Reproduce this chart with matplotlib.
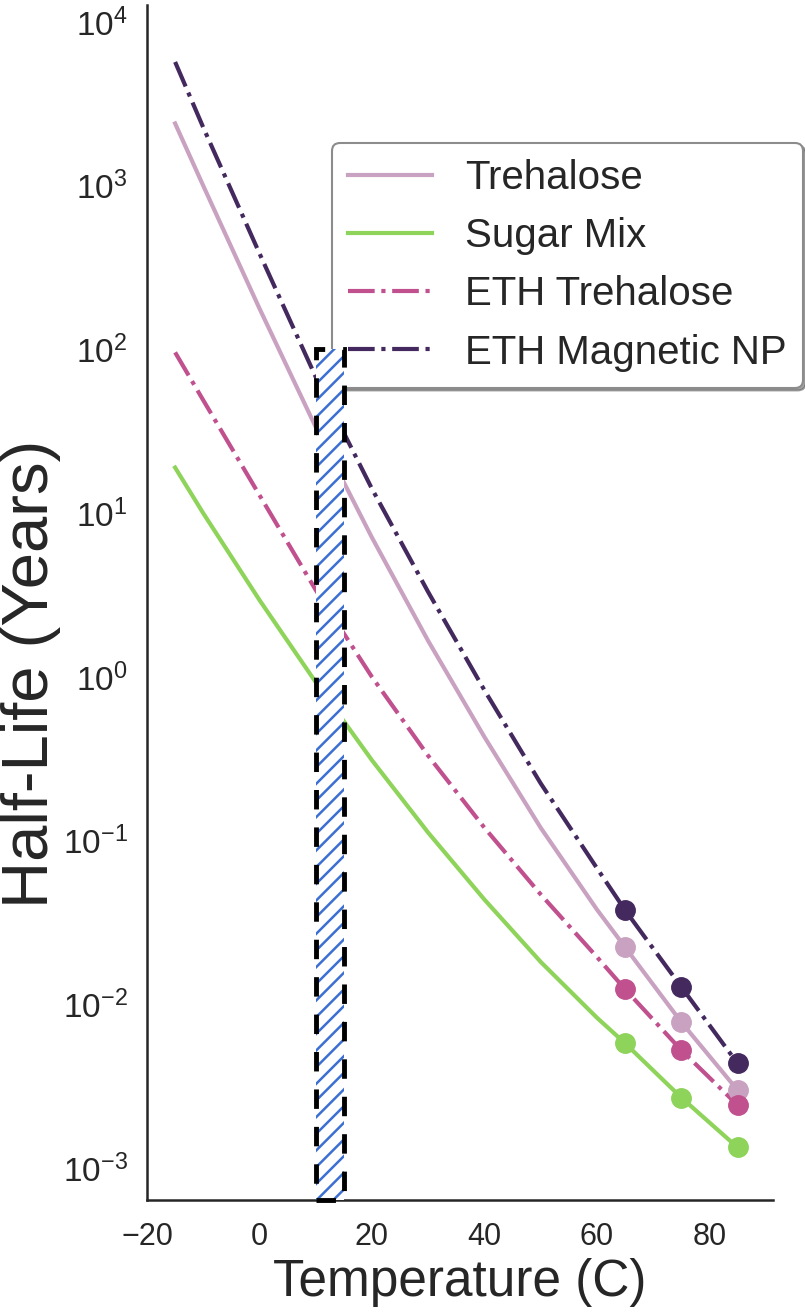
import numpy as np
import matplotlib
matplotlib.use('Agg')
import matplotlib.pyplot as plt
from matplotlib.patches import Rectangle
from matplotlib.ticker import FixedLocator, NullLocator, LogFormatterSciNotation

# temperatures (C) where the curves were read
temps = [-15, -10, 0, 10, 20, 30, 40, 50, 60, 65, 75, 85]

# half-life in years
trehalose = [2400, 1000, 178, 33.6, 7.1, 1.66, 0.43, 0.12, 0.038, 0.0224, 0.0078, 0.0030]
sugar_mix = [19, 10, 2.95, 0.93, 0.31, 0.112, 0.0437, 0.0182, 0.0083, 0.0058, 0.0027, 0.00134]
eth_trehalose = [96, 49, 12.9, 3.4, 1.0, 0.33, 0.12, 0.047, 0.0195, 0.0124, 0.00526, 0.00243]
eth_magnetic = [5700, 2270, 386, 68, 14.1, 3.3, 0.83, 0.224, 0.068, 0.0377, 0.0128, 0.00437]

# measured points (accelerated ageing)
meas_temps = [65, 75, 85]

names = ['Trehalose', 'Sugar Mix', 'ETH Trehalose', 'ETH Magnetic NP']
colors = ['#c9a1c1', '#8ed35a', '#c0508e', '#44295e']
styles = ['-', '-', '-.', '-.']

xticks = [-20, 0, 20, 40, 60, 80]
yticks = [1e-3, 1e-2, 1e-1, 1e0, 1e1, 1e2, 1e3, 1e4]

# storage temperature window
storage_lo, storage_hi = 10, 15
storage_top = 100

plt.rcParams['font.family'] = ['Liberation Sans', 'DejaVu Sans']
plt.rcParams['hatch.linewidth'] = 1.8

fig = plt.figure(figsize=(8.05, 13.12), dpi=100)
ax = fig.add_axes([0.1826, 0.0854, 0.7776, 0.9108])

series = [trehalose, sugar_mix, eth_trehalose, eth_magnetic]
for name, vals, c, ls in zip(names, series, colors, styles):
    ax.plot(temps, vals, ls, color=c, lw=3, label=name, zorder=3)
    pts = [vals[temps.index(t)] for t in meas_temps]
    ax.plot(meas_temps, pts, 'o', color=c, ms=14, zorder=4)

ax.set_yscale('log')
ax.set_xlim(-20, 91.3)
ax.set_ylim(6.4e-4, 1.27e4)
ax.yaxis.set_major_locator(FixedLocator(yticks))
ax.yaxis.set_major_formatter(LogFormatterSciNotation())
ax.yaxis.set_minor_locator(NullLocator())
ax.set_xticks(xticks)

ymin = ax.get_ylim()[0]
hatch = Rectangle((storage_lo, ymin), storage_hi - storage_lo, storage_top - ymin,
                  facecolor='white', edgecolor='#3b6fd2', hatch='//', lw=0,
                  zorder=7, clip_on=False)
ax.add_patch(hatch)
frame = Rectangle((storage_lo, ymin), storage_hi - storage_lo, storage_top - ymin,
                  facecolor='none', edgecolor='black', lw=3.5,
                  linestyle=(0, (4, 3.7)), zorder=8, clip_on=False)
ax.add_patch(frame)

for s in ['top', 'right']:
    ax.spines[s].set_visible(False)
for s in ['left', 'bottom']:
    ax.spines[s].set_color('#262626')
    ax.spines[s].set_linewidth(1.8)

ax.tick_params(axis='both', length=0, colors='#262626')
ax.tick_params(axis='x', labelsize=22, pad=16)
ax.tick_params(axis='y', labelsize=24, pad=14)

ax.set_xlabel('Temperature (C)', fontsize=37, color='#262626', labelpad=4)
ax.set_ylabel('Half-Life (Years)', fontsize=47, color='#262626')
ax.yaxis.set_label_coords(-0.138, 0.44)

leg = ax.legend(loc='upper right', bbox_to_anchor=(803 / 805, 1 - 143 / 1312),
                bbox_transform=fig.transFigure, fontsize=29, frameon=True,
                fancybox=True, shadow=True, handlelength=2.1, handletextpad=0.82,
                labelspacing=0.5, borderpad=0.4, borderaxespad=0)
leg.set_zorder(6)
leg.get_frame().set_edgecolor('#8c8c8c')
leg.get_frame().set_linewidth(1.5)
for t in leg.get_texts():
    t.set_color('#262626')

fig.savefig('out.png', dpi=100)
